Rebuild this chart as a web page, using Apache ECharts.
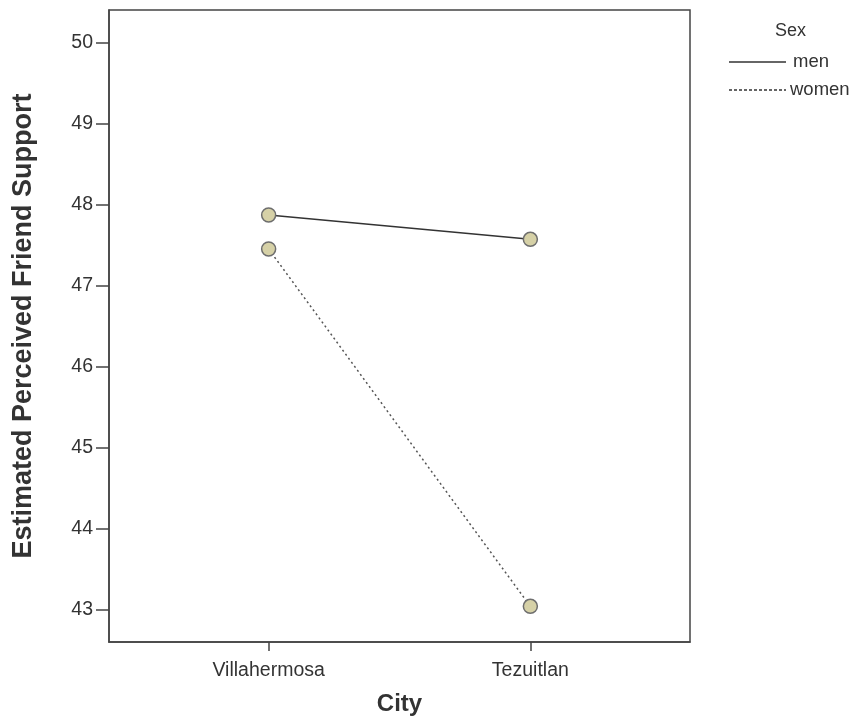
<!DOCTYPE html>
<html>
<head>
<meta charset="utf-8">
<script src="https://cdn.jsdelivr.net/npm/echarts@6/dist/echarts.min.js"></script>
<style>
  html, body { margin: 0; padding: 0; background: #fff; }
  #chart { width: 856px; height: 717px; }
</style>
</head>
<body>
<div id="chart"></div>
<script>
// city categories sit at x = 0 and 1 on a value axis
const cities = ['Villahermosa', 'Tezuitlan'];
const menValues = [47.87, 47.57];
const womenValues = [47.45, 43.04];
const yTicks = [43, 44, 45, 46, 47, 48, 49, 50];

const FONT = '"Liberation Sans", Arial, sans-serif';
const axisColor = '#444';
const textColor = '#333';

const myChart = echarts.init(document.getElementById('chart'));

function pairs(vals) {
  return vals.map((v, i) => [i, v]);
}

const markerStyle = {
  color: '#d6d1a7',
  borderColor: '#6e6e6e',
  borderWidth: 1.5
};

myChart.setOption({
  animation: false,
  grid: {
    left: 109,
    right: 166,
    top: 10,
    bottom: 75,
    show: true,
    borderColor: axisColor,
    borderWidth: 1.5,
    containLabel: false,
    outerBoundsMode: 'none'
  },
  xAxis: {
    type: 'value',
    min: -0.61,
    max: 1.61,
    name: 'City',
    nameLocation: 'middle',
    nameGap: 50,
    nameTextStyle: { fontFamily: FONT, fontSize: 24, fontWeight: 'bold', color: textColor },
    splitLine: { show: false },
    axisLine: { show: true, onZero: false, lineStyle: { color: axisColor, width: 1.5 } },
    axisTick: { show: true, customValues: [0, 1], length: 9, lineStyle: { color: axisColor, width: 1.5 } },
    axisLabel: {
      customValues: [0, 1],
      formatter: v => cities[Math.round(v)],
      fontFamily: FONT,
      fontSize: 19.5,
      color: textColor,
      margin: 19
    }
  },
  yAxis: {
    type: 'value',
    min: 42.6,
    max: 50.4,
    name: 'Estimated Perceived Friend Support',
    nameLocation: 'middle',
    nameGap: 72,
    nameTextStyle: { fontFamily: FONT, fontSize: 27, fontWeight: 'bold', color: textColor },
    splitLine: { show: false },
    axisLine: { show: true, onZero: false, lineStyle: { color: axisColor, width: 1.5 } },
    axisTick: { show: true, customValues: yTicks, length: 13, lineStyle: { color: axisColor, width: 1.5 } },
    axisLabel: {
      customValues: yTicks,
      fontFamily: FONT,
      fontSize: 19.5,
      color: textColor,
      margin: 16
    }
  },
  series: [
    {
      name: 'men',
      type: 'line',
      data: pairs(menValues),
      symbol: 'circle',
      symbolSize: 14,
      itemStyle: markerStyle,
      lineStyle: { color: '#333', width: 1.5, type: 'solid' },
      z: 3
    },
    {
      name: 'women',
      type: 'line',
      data: pairs(womenValues),
      symbol: 'circle',
      symbolSize: 14,
      itemStyle: markerStyle,
      lineStyle: { color: '#555', width: 1.5, type: [2, 3] },
      z: 2
    }
  ],
  graphic: [
    { type: 'text', left: 775, top: 22, style: { text: 'Sex', fontFamily: FONT, fontSize: 18, fill: textColor } },
    { type: 'line', shape: { x1: 729, y1: 62, x2: 786, y2: 62 }, style: { stroke: '#333', lineWidth: 1.5 } },
    { type: 'text', left: 793, top: 52, style: { text: 'men', fontFamily: FONT, fontSize: 18.5, fill: textColor } },
    { type: 'line', shape: { x1: 729, y1: 90, x2: 786, y2: 90 }, style: { stroke: '#333', lineWidth: 1.5, lineDash: [3, 2] } },
    { type: 'text', left: 790, top: 80, style: { text: 'women', fontFamily: FONT, fontSize: 18.5, fill: textColor } }
  ]
});

window.addEventListener('resize', () => {
  myChart.resize();
});
</script>
</body>
</html>
